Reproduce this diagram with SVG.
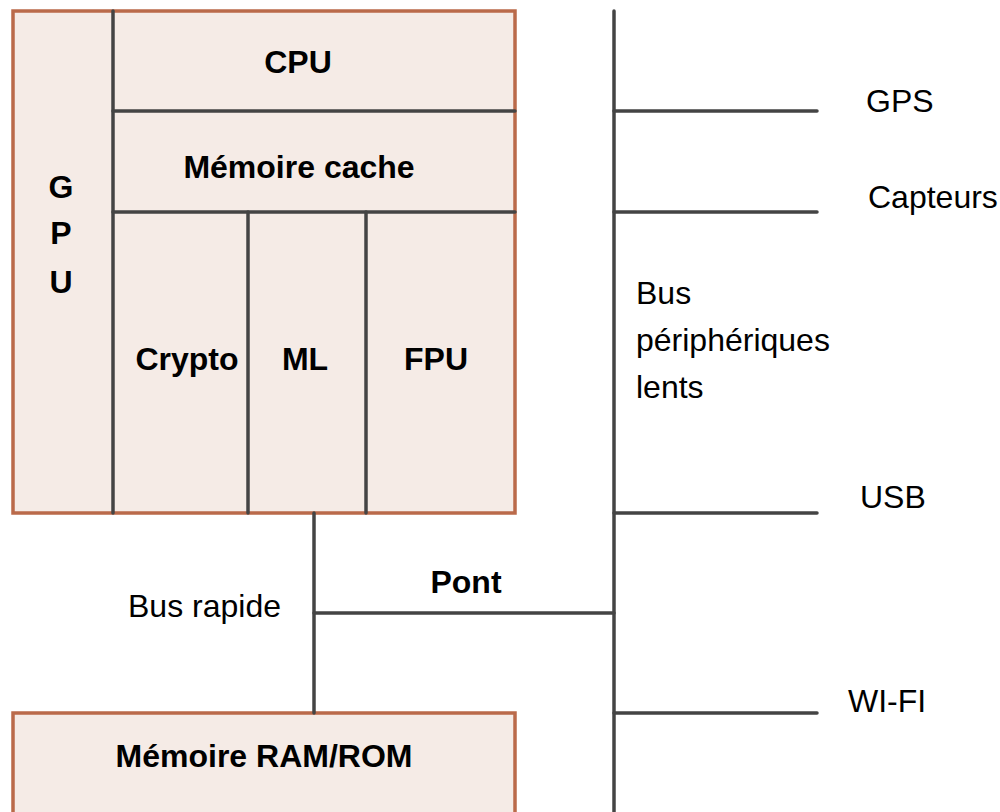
<svg xmlns="http://www.w3.org/2000/svg" width="1000" height="812" viewBox="0 0 1000 812">
<style>
.box{fill:#F5EBE6;stroke:#BA6A4A;stroke-width:3.5}
.ln{stroke:#444;stroke-width:3.5;stroke-linecap:round;fill:none}
text{font-family:"Liberation Sans",Arial,sans-serif;font-size:32px;fill:#000}
.b{font-weight:bold}
.m{text-anchor:middle}
</style>
<rect width="1000" height="812" fill="#fff"/>
<g id="soc">
<rect class="box" x="13" y="11" width="502" height="502"/>
</g>
<g id="ram">
<rect class="box" x="13" y="713" width="502" height="120"/>
<text class="b m" x="264" y="767">Mémoire RAM/ROM</text>
</g>
<g id="connectors">
<line class="ln" x1="113" y1="11" x2="113" y2="513"/>
<line class="ln" x1="113" y1="111" x2="515" y2="111"/>
<line class="ln" x1="113" y1="212" x2="515" y2="212"/>
<line class="ln" x1="248" y1="212" x2="248" y2="513"/>
<line class="ln" x1="366" y1="212" x2="366" y2="513"/>
<line class="ln" x1="314" y1="513" x2="314" y2="713"/>
<line class="ln" x1="314" y1="613" x2="614" y2="613"/>
<line class="ln" x1="614" y1="11" x2="614" y2="830"/>
<line class="ln" x1="614" y1="111" x2="817" y2="111"/>
<line class="ln" x1="614" y1="212" x2="817" y2="212"/>
<line class="ln" x1="614" y1="513" x2="817" y2="513"/>
<line class="ln" x1="614" y1="713" x2="817" y2="713"/>
</g>
<g id="gpu">
<text class="b m" x="61" y="198">G</text>
<text class="b m" x="61" y="244">P</text>
<text class="b m" x="61" y="293">U</text>
</g>
<g id="cpu"><text class="b m" x="298" y="73">CPU</text></g>
<g id="cache"><text class="b m" x="299" y="178">Mémoire cache</text></g>
<g id="crypto"><text class="b m" x="187" y="370">Crypto</text></g>
<g id="ml"><text class="b m" x="305" y="370">ML</text></g>
<g id="fpu"><text class="b m" x="436" y="370">FPU</text></g>
<g id="labels">
<text x="128" y="617">Bus rapide</text>
<text class="b m" x="466" y="593">Pont</text>
<text x="636" y="304">Bus</text>
<text x="636" y="351">périphériques</text>
<text x="636" y="398">lents</text>
</g>
<g id="gps"><text x="866" y="112">GPS</text></g>
<g id="capteurs"><text x="868" y="208">Capteurs</text></g>
<g id="usb"><text x="860" y="508">USB</text></g>
<g id="wifi"><text x="848" y="712">WI-FI</text></g>
</svg>
